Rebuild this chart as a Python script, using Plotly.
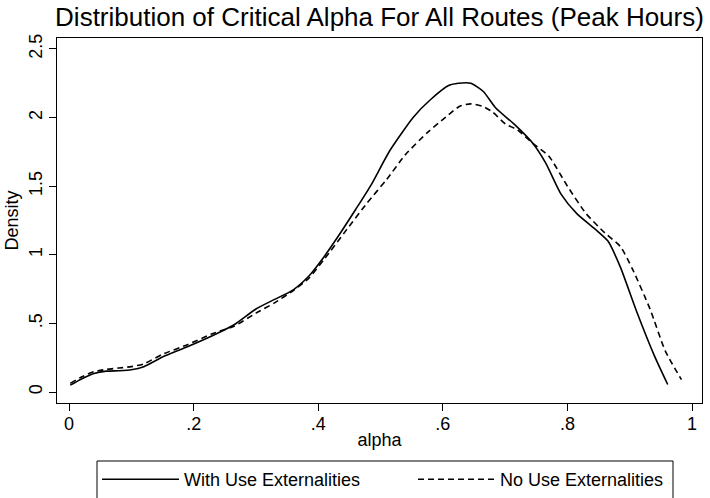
import plotly.graph_objects as go

# Kernel density estimates of critical alpha, peak hours
alpha_with = [0.002, 0.02, 0.04, 0.06, 0.08, 0.10, 0.12, 0.15, 0.19, 0.23, 0.265, 0.30,
              0.33, 0.36, 0.385, 0.41, 0.435, 0.46, 0.485, 0.515, 0.553, 0.58, 0.61,
              0.625, 0.645, 0.665, 0.685, 0.715, 0.745, 0.765, 0.79, 0.815, 0.845,
              0.865, 0.885, 0.91, 0.94, 0.961]
density_with = [0.05, 0.095, 0.135, 0.152, 0.155, 0.162, 0.185, 0.255, 0.33, 0.41, 0.49,
                0.605, 0.675, 0.745, 0.845, 0.99, 1.155, 1.33, 1.51, 1.76, 2.005, 2.13,
                2.235, 2.25, 2.25, 2.19, 2.07, 1.95, 1.81, 1.67, 1.44, 1.30, 1.185,
                1.10, 0.91, 0.60, 0.26, 0.055]

alpha_without = [0.002, 0.02, 0.04, 0.06, 0.08, 0.10, 0.12, 0.15, 0.19, 0.23, 0.265, 0.30,
                 0.33, 0.36, 0.385, 0.41, 0.445, 0.478, 0.51, 0.54, 0.575, 0.605, 0.628,
                 0.645, 0.665, 0.68, 0.70, 0.72, 0.745, 0.77, 0.80, 0.83, 0.86, 0.885,
                 0.905, 0.933, 0.957, 0.983]
density_without = [0.063, 0.11, 0.148, 0.165, 0.175, 0.185, 0.205, 0.275, 0.345, 0.425,
                   0.48, 0.575, 0.65, 0.74, 0.83, 0.97, 1.18, 1.375, 1.55, 1.73, 1.89,
                   2.005, 2.085, 2.10, 2.08, 2.04, 1.955, 1.91, 1.81, 1.72, 1.50, 1.30,
                   1.16, 1.06, 0.89, 0.60, 0.30, 0.09]

x_ticks = [0, 0.2, 0.4, 0.6, 0.8, 1]
x_tick_labels = ["0", ".2", ".4", ".6", ".8", "1"]
y_ticks = [0, 0.5, 1, 1.5, 2, 2.5]
y_tick_labels = ["0", ".5", "1", "1.5", "2", "2.5"]

FONT = "Liberation Sans, Arial, Helvetica, sans-serif"

# plot area in pixels: 645 wide, 365 tall (margins below)
PLOT_W, PLOT_H = 645, 365

fig = go.Figure()
fig.add_trace(go.Scatter(
    x=alpha_with, y=density_with, mode="lines", name="With Use Externalities",
    line=dict(color="black", width=1.6, shape="spline", smoothing=0.6),
))
fig.add_trace(go.Scatter(
    x=alpha_without, y=density_without, mode="lines", name="No Use Externalities",
    line=dict(color="black", width=1.6, dash="6px,4px", shape="spline", smoothing=0.6),
))

# frame around the legend row
fig.add_shape(
    type="rect", xref="paper", yref="paper",
    x0=40 / PLOT_W, x1=616 / PLOT_W, y0=-58 / PLOT_H, y1=-120 / PLOT_H,
    line=dict(color="black", width=1), fillcolor="rgba(0,0,0,0)", layer="above",
)

fig.update_layout(
    width=710, height=498,
    margin=dict(l=57, r=8, t=38, b=95, autoexpand=False),
    paper_bgcolor="white", plot_bgcolor="white",
    font=dict(family=FONT, size=18, color="black"),
    title=dict(
        text="Distribution of Critical Alpha For All Routes (Peak Hours)",
        font=dict(size=26, color="black", family=FONT),
        x=0.5, xref="paper", xanchor="center",
        y=1 - 17 / 498, yref="container", yanchor="middle",
    ),
    xaxis=dict(
        range=[-0.0193, 1.016], tickvals=x_ticks, ticktext=x_tick_labels,
        showgrid=False, zeroline=False, showline=True, linecolor="black",
        linewidth=1, mirror=True, ticks="outside", ticklen=7, tickcolor="black",
        tickfont=dict(size=18), ticklabelstandoff=-3,
        title=dict(text="alpha", font=dict(size=18), standoff=0),
        automargin=False,
    ),
    yaxis=dict(
        range=[-0.080, 2.580], tickvals=y_ticks, ticktext=y_tick_labels,
        showgrid=False, zeroline=False, showline=True, linecolor="black",
        linewidth=1, mirror=True, ticks="outside", ticklen=7, tickcolor="black",
        tickangle=-90, tickfont=dict(size=18),
        title=dict(text="Density", font=dict(size=18), standoff=2),
        automargin=False,
    ),
    showlegend=True,
    legend=dict(
        orientation="h", x=40 / PLOT_W, xanchor="left", y=-58 / PLOT_H, yanchor="top",
        borderwidth=0, bgcolor="rgba(0,0,0,0)",
        font=dict(size=18), entrywidth=224, itemwidth=77,
    ),
)

fig.write_html("out.html")
